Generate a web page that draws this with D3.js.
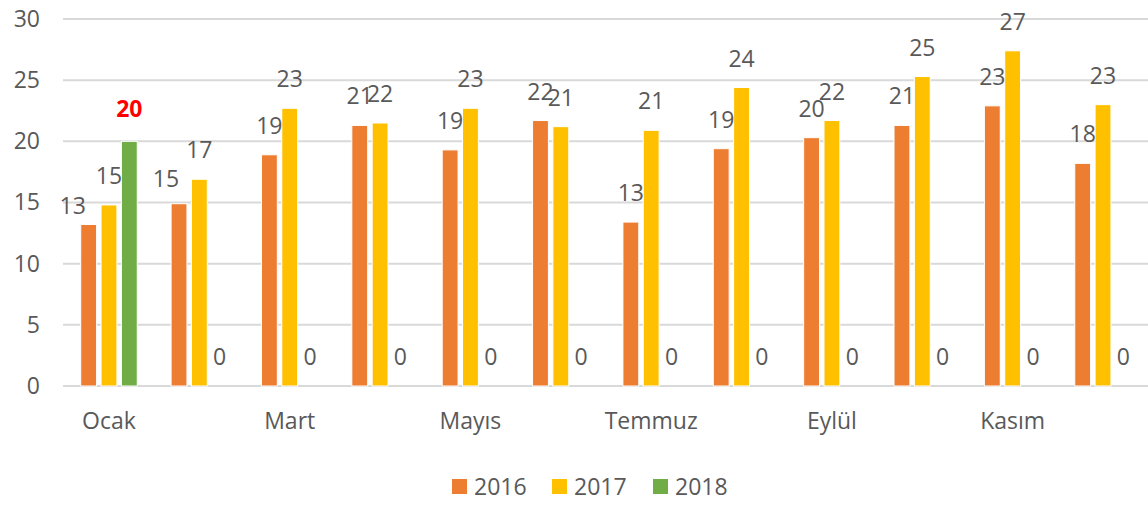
<!DOCTYPE html>
<html>
<head>
<meta charset="utf-8">
<script src="https://cdn.jsdelivr.net/npm/d3@7"></script>
<style>
  body { margin: 0; background: #fff; }
  text { font-family: "Open Sans", "Liberation Sans", sans-serif; fill: #595959; }
</style>
</head>
<body>
<div id="chart"></div>
<script>
// months (only every other one gets a label on the axis, like the excel original)
var months = ["Ocak", "Şubat", "Mart", "Nisan", "Mayıs", "Haziran", "Temmuz", "Ağustos", "Eylül", "Ekim", "Kasım", "Aralık"];
var years = ["2016", "2017", "2018"];

var v2016 = [13.2, 14.9, 18.9, 21.3, 19.3, 21.7, 13.4, 19.4, 20.3, 21.3, 22.9, 18.2];
var v2017 = [14.8, 16.9, 22.7, 21.5, 22.7, 21.2, 20.9, 24.4, 21.7, 25.3, 27.4, 23.0];
var v2018 = [20, 0, 0, 0, 0, 0, 0, 0, 0, 0, 0, 0];

var yTicks = [0, 5, 10, 15, 20, 25, 30];

var colors = { "2016": "#ED7D31", "2017": "#FFC000", "2018": "#70AD47" };

// a couple of labels were dragged by hand in the original
var labelNudge = { "2016-0": [-16, 10], "2016-1": [-13, 4], "2018-0": [0, -3] };

var width = 1148, height = 505;

var svg = d3.select("#chart")
    .append("svg")
    .attr("width", width)
    .attr("height", height);

var x = d3.scaleBand()
    .domain(months)
    .range([63.8, 1148.2])
    .paddingInner(0.325)
    .paddingOuter(0.1625);

var xInner = d3.scaleBand()
    .domain(years)
    .range([0, x.bandwidth()])
    .paddingInner(0.22)
    .paddingOuter(0.11);

var y = d3.scaleLinear()
    .domain([0, 30])
    .range([386, 19]);

// gridlines
svg.append("g")
    .selectAll("line")
    .data(yTicks)
    .enter().append("line")
    .attr("x1", 63)
    .attr("x2", width)
    .attr("y1", function(d) { return y(d); })
    .attr("y2", function(d) { return y(d); })
    .style("stroke", "#d9d9d9")
    .style("stroke-width", 2);

// y axis labels
var yAxis = svg.append("g")
    .attr("transform", "translate(40,0)")
    .call(d3.axisLeft(y).tickValues(yTicks).tickSize(0).tickPadding(0));
yAxis.select(".domain").remove();
yAxis.selectAll("text")
    .style("font-size", "23px")
    .style("fill", "#595959")
    .style("font-family", "'Open Sans', sans-serif");

// x axis labels, every second month
var xAxis = svg.append("g")
    .attr("transform", "translate(0,413)")
    .call(d3.axisBottom(x)
        .tickValues(months.filter(function(d, i) { return i % 2 === 0; }))
        .tickSize(0).tickPadding(0));
xAxis.select(".domain").remove();
xAxis.selectAll("text")
    .style("font-size", "23px")
    .style("fill", "#595959")
    .style("font-family", "'Open Sans', sans-serif");

// flatten data
var rows = [];
months.forEach(function(m, i) {
    rows.push({ month: m, i: i, year: "2016", value: v2016[i] });
    rows.push({ month: m, i: i, year: "2017", value: v2017[i] });
    rows.push({ month: m, i: i, year: "2018", value: v2018[i] });
});

// bars
svg.append("g")
    .selectAll("rect")
    .data(rows.filter(function(d) { return d.value > 0; }))
    .enter().append("rect")
    .attr("x", function(d) { return x(d.month) + xInner(d.year); })
    .attr("y", function(d) { return y(d.value); })
    .attr("width", xInner.bandwidth())
    .attr("height", function(d) { return y(0) - y(d.value); })
    .style("fill", function(d) { return colors[d.year]; })
    .style("stroke", "#fff")
    .style("stroke-width", 1);

// data labels
svg.append("g")
    .selectAll("text")
    .data(rows)
    .enter().append("text")
    .attr("x", function(d) {
        var n = labelNudge[d.year + "-" + d.i];
        return x(d.month) + xInner(d.year) + xInner.bandwidth() / 2 + (n ? n[0] : 0);
    })
    .attr("y", function(d) {
        var n = labelNudge[d.year + "-" + d.i];
        return y(d.value) - 29 + (n ? n[1] : 0);
    })
    .attr("dy", "0.35em")
    .attr("text-anchor", "middle")
    .style("font-size", "23px")
    .style("font-weight", function(d) { return d.year === "2018" && d.value > 0 ? "bold" : "normal"; })
    .style("fill", function(d) { return d.year === "2018" && d.value > 0 ? "#FF0000" : "#595959"; })
    .text(function(d) { return Math.round(d.value); });

// legend
var legendX = [452, 552, 653];
var legend = svg.append("g")
    .selectAll("g")
    .data(years)
    .enter().append("g")
    .attr("transform", function(d, i) { return "translate(" + legendX[i] + ",479)"; });
legend.append("rect")
    .attr("width", 15)
    .attr("height", 15)
    .style("fill", function(d) { return colors[d]; });
legend.append("text")
    .attr("x", 22)
    .attr("y", 8)
    .attr("dy", "0.35em")
    .style("font-size", "23px")
    .text(function(d) { return d; });
</script>
</body>
</html>
